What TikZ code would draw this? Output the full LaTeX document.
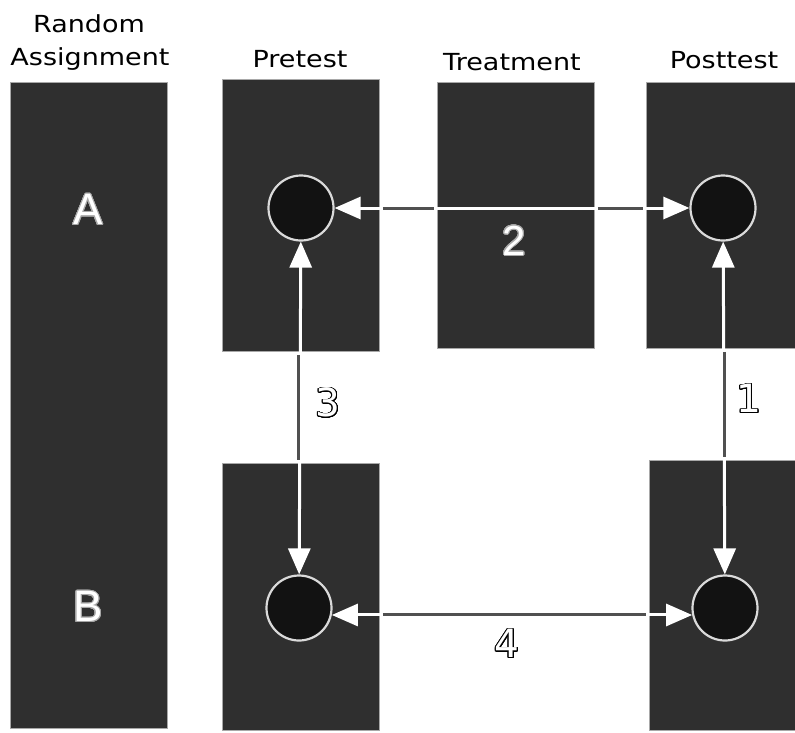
\documentclass[tikz,border=0pt]{standalone}
\usepackage{fontspec}
\usepackage{contour}
\usetikzlibrary{arrows.meta,calc}
\newfontfamily\headfont[FakeStretch=1.15]{DejaVu Sans}
\newfontfamily\digitfont{DejaVu Sans}
\newfontfamily\letterfont{Liberation Sans}
\definecolor{boxfill}{HTML}{2F2F2F}
\definecolor{boxedge}{HTML}{A8A8A8}
\definecolor{dotfill}{HTML}{121212}
\definecolor{dotedge}{HTML}{DADADA}
\definecolor{gapline}{HTML}{505050}
\contournumber{32}
\tikzset{
  panel/.style={draw=boxedge, line width=0.9pt, fill=boxfill, anchor=north west,
    rectangle, inner sep=0pt, minimum width=157pt},
  obs/.style={circle, draw=dotedge, line width=2.2pt, fill=dotfill,
    minimum size=65pt, inner sep=0pt},
  link/.style={white, line width=3pt,
    {Triangle[length=26pt,width=22pt,fill=white]}-{Triangle[length=26pt,width=22pt,fill=white]}},
  gapseg/.style={gapline, line width=3pt},
  heading/.style={anchor=base, font=\headfont\fontsize{23.5}{28}\selectfont, text=black},
  group/.style={text=white, font=\letterfont\fontsize{44}{48}\selectfont},
  pathno/.style={text=white, font=\digitfont\fontsize{39}{42}\selectfont},
}
\begin{document}
\begin{tikzpicture}[x=1pt, y=-1pt]
\useasboundingbox (0,0) rectangle (795,732);
\begin{scope}
\clip (0,0) rectangle (795,732);
% columns of the design
\node[panel, minimum height=646pt] (bra)   at (10,82)  {};
\node[panel, minimum height=272pt] (bpreA) at (222,79) {};
\node[panel, minimum height=266pt] (btrt)  at (437,82) {};
\node[panel, minimum height=266pt] (bpostA) at (646,82) {};
\node[panel, minimum height=267pt] (bpreB) at (222,463) {};
\node[panel, minimum height=270pt] (bpostB) at (649,460) {};
\end{scope}

% headings
\node[heading] (hra1) at (89,32) {Random};
\node[heading] (hra2) at (90,65) {Assignment};
\node[heading] (hpre) at (300,67) {Pretest};
\node[heading] (htrt) at (512,70) {Treatment};
\node[heading] (hpost) at (724,68) {Posttest};

% group labels
\node[group] (ga) at (88,210) {\contourlength{0.8pt}\contour{gray!70}{A}};
\node[group] (gb) at (88,607) {\contourlength{0.8pt}\contour{gray!70}{B}};

% observations
\node[obs] (ppA)  at (301,208) {};
\node[obs] (poA)  at (723,208) {};
\node[obs] (ppB)  at (299,608) {};
\node[obs] (poB)  at (725,608) {};

% comparisons
\draw[link] (ppA) -- (poA);
\draw[link] (ppA) -- (ppB);
\draw[link] (poA) -- (poB);
\draw[link] (ppB.-12) -- (poB.192);

% darker pieces of the lines where they cross the white background
\draw[gapseg] ($(bpreA.east|-ppA)+(3,0)$) -- ($(btrt.west|-ppA)+(-3,0)$);
\draw[gapseg] ($(btrt.east|-ppA)+(3,0)$) -- ($(bpostA.west|-ppA)+(-3,0)$);
\draw[gapseg] ($(bpreA.south-|ppA)+(-3,3)$) -- ($(bpreB.north-|ppA)+(-3,-3)$);
\draw[gapseg] ($(bpostA.south-|poA)+(1,3)$) -- ($(bpostB.north-|poA)+(1,-3)$);
\draw[gapseg] ($(bpreB.east|-ppB.-12)+(3,0)$) -- ($(bpostB.west|-ppB.-12)+(-3,0)$);

% comparison numbers
\node[group, font=\letterfont\fontsize{42}{46}\selectfont] (n2) at (514,241) {\contourlength{0.8pt}\contour{gray!70}{2}};
\node[pathno] (n3) at (328,403) {\contourlength{0.7pt}\contour{black}{3}};
\node[pathno] (n1) at (749,399) {\contourlength{0.7pt}\contour{black}{1}};
\node[pathno] (n4) at (507,644) {\contourlength{0.7pt}\contour{black}{4}};
\end{tikzpicture}
\end{document}
